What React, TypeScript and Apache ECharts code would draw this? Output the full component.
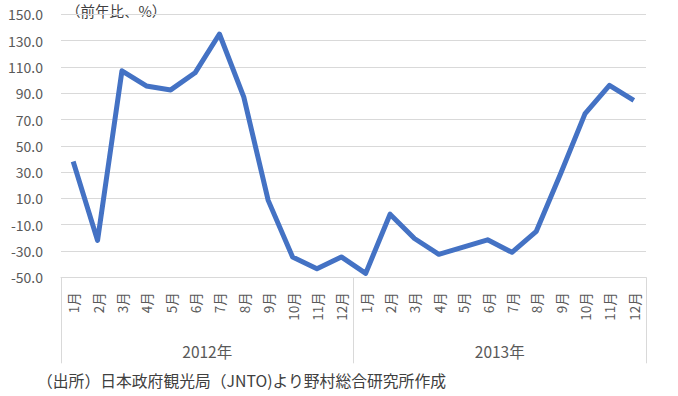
import React, { useEffect, useRef } from "react";
import * as echarts from "echarts";

const months = ["1月","2月","3月","4月","5月","6月","7月","8月","9月","10月","11月","12月","1月","2月","3月","4月","5月","6月","7月","8月","9月","10月","11月","12月"];
const years = ["2012年", "2013年"];
const values = [38, -22, 107, 95.5, 92.5, 105.5, 135, 87, 8.5, -34.5, -43.5, -34.5, -47, -2, -20.5, -32.5, -27, -21.5, -31, -15, 29, 74.5, 96, 84.5];
const yMin = -50;
const yMax = 150;
const yStep = 20;
const unitLabel = "（前年比、%）";
const sourceText = "（出所）日本政府観光局（JNTO)より野村総合研究所作成";

const FONT = "'Noto Sans CJK JP', 'Noto Sans', sans-serif";

export default function App() {
  const ref = useRef<HTMLDivElement>(null);
  useEffect(() => {
    if (!ref.current) return;
    const chart = echarts.init(ref.current, null, { renderer: "svg" });
    chart.setOption({
      animation: false,
      backgroundColor: "#ffffff",
      textStyle: { fontFamily: FONT },
      grid: { left: 61, right: 32, top: 14.3, bottom: 118.7, containLabel: false },
      xAxis: [
        {
          type: "category",
          data: months,
          boundaryGap: true,
          axisLine: { show: true, onZero: false, lineStyle: { color: "#d9d9d9", width: 1 } },
          axisTick: { show: false },
          axisLabel: { rotate: 90, margin: 15, fontSize: 13.5, color: "#595959", fontFamily: FONT, interval: 0 },
          splitLine: { show: false },
        },
        {
          type: "category",
          data: years,
          position: "bottom",
          boundaryGap: true,
          axisLine: { show: false, onZero: false },
          axisTick: { show: true, length: 86, lineStyle: { color: "#d9d9d9", width: 1 } },
          axisLabel: { margin: 66, fontSize: 15.5, color: "#595959", fontFamily: FONT },
          splitLine: { show: false },
        },
      ],
      yAxis: {
        type: "value",
        min: yMin,
        max: yMax,
        interval: yStep,
        axisLine: { show: false },
        axisTick: { show: false },
        axisLabel: {
          margin: 18,
          fontSize: 14,
          color: "#595959",
          fontFamily: FONT,
          formatter: (v: number) => v.toFixed(1),
        },
        splitLine: { show: true, lineStyle: { color: "#d9d9d9", width: 1 } },
      },
      series: [
        {
          type: "line",
          data: values,
          xAxisIndex: 0,
          symbol: "none",
          lineStyle: { color: "#4472C4", width: 5, join: "round" },
          itemStyle: { color: "#4472C4" },
        },
      ],
      graphic: [
        {
          type: "text",
          left: 66,
          top: 3,
          style: { text: unitLabel, fontSize: 14.5, fill: "#404040", fontFamily: FONT, backgroundColor: "#ffffff" },
        },
        {
          type: "text",
          left: 37,
          top: 373,
          style: { text: sourceText, fontSize: 15.8, fill: "#404040", fontFamily: FONT },
        },
      ],
    });
    return () => chart.dispose();
  }, []);
  return <div ref={ref} style={{ width: 678, height: 396, position: "absolute", left: 0, top: 0 }} />;
}
